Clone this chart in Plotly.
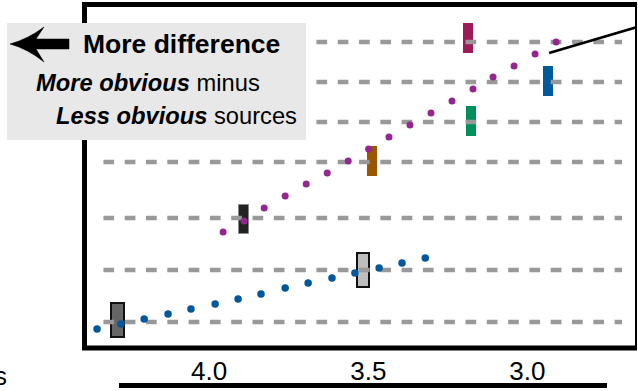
import plotly.graph_objects as go

# ── Data ─────────────────────────────────────────────────────────────────────
# rows (dashed reference lines), in plot units
grid_rows = [0.0, 1.3, 2.6, 4.0, 5.0, 6.0, 7.0]
grid_x_start, grid_x_end = 4.332, 2.703

# lower series (blue dots)
blue_x = [4.352, 4.277, 4.204, 4.129, 4.057, 3.981, 3.909, 3.837,
          3.761, 3.689, 3.614, 3.542, 3.466, 3.394, 3.321]
blue_y = [-0.175, -0.05, 0.075, 0.2, 0.325, 0.45, 0.575, 0.7,
          0.85, 0.975, 1.1, 1.225, 1.35, 1.475, 1.6]

# upper series (purple dots)
purple_x = [3.956, 3.890, 3.827, 3.761, 3.695, 3.629, 3.563, 3.499, 3.435,
            3.369, 3.303, 3.237, 3.171, 3.108, 3.042, 2.976, 2.910]
purple_y = [2.25, 2.525, 2.85, 3.15, 3.45, 3.725, 4.025, 4.325, 4.625,
            4.925, 5.225, 5.525, 5.825, 6.125, 6.4, 6.7, 7.0]

# interval markers: centre, low, high
bar_x    = [3.186, 2.935, 3.177, 3.488, 3.890, 3.516, 4.288]
bar_low  = [6.73, 5.65, 4.65, 3.65, 2.20, 0.875, -0.375]
bar_high = [7.47, 6.40, 5.40, 4.40, 2.925, 1.725, 0.475]
bar_colors = ["#9e1b57", "#005a9c", "#00905a", "#9a5700",
              "#222222", "#bdbdbd", "#666666"]

tick_vals = [4.0, 3.5, 3.0]
tick_text = ["4.0", "3.5", "3.0"]

# pointer line (from last purple dots toward an off-canvas note)
pointer_start = (2.932, 6.725)
pointer_end = (2.583, 7.545)

FONT = "Liberation Sans, Arial, Helvetica, sans-serif"

# ── Canvas geometry (pixels) ─────────────────────────────────────────────────
W, H = 638, 391
ML, MR, MT, MB = 84, 2, 4, 43
PW, PH = W - ML - MR, H - MT - MB


def px(x):
    return (x - ML) / PW


def py(y):
    return (H - MB - y) / PH


# ── Traces ───────────────────────────────────────────────────────────────────
bars = go.Bar(
    x=bar_x,
    y=[h - l for h, l in zip(bar_high, bar_low)],
    base=bar_low,
    width=[0.031, 0.031, 0.031, 0.031, 0.031, 0.038, 0.041],
    marker=dict(
        color=bar_colors,
        line=dict(color=["rgba(0,0,0,0)"] * 4 + ["#888888", "#111111", "#111111"],
                  width=[0, 0, 0, 0, 1, 2, 2]),
    ),
    showlegend=False,
    hoverinfo="skip",
)

gx, gy = [], []
for r in grid_rows:
    gx += [grid_x_start, grid_x_end, None]
    gy += [r, r, None]
grid = go.Scatter(
    x=gx, y=gy, mode="lines",
    line=dict(color="#999999", width=4.5, dash="10.7px,10.6px"),
    showlegend=False, hoverinfo="skip",
)

blue = go.Scatter(
    x=blue_x, y=blue_y, mode="markers",
    marker=dict(size=7.5, color="#00579b"),
    showlegend=False,
)
purple = go.Scatter(
    x=purple_x, y=purple_y, mode="markers",
    marker=dict(size=7, color="#93278f"),
    showlegend=False,
)

fig = go.Figure(data=[bars, grid, blue, purple])

# ── Frame, note box and arrow ────────────────────────────────────────────────
frame = (f"M {px(637)},{py(4.5)} L {px(84.5)},{py(4.5)} "
         f"L {px(84.5)},{py(348)} L {px(637)},{py(348)}")
arrow = (f"M {px(10)},{py(44)} Q {px(28)},{py(39)} {px(44)},{py(27)} "
         f"L {px(36)},{py(39)} L {px(69)},{py(39)} L {px(69)},{py(49)} "
         f"L {px(36)},{py(49)} L {px(44)},{py(62)} "
         f"Q {px(28)},{py(49)} {px(10)},{py(44)} Z")

shapes = [
    dict(type="path", xref="paper", yref="paper", path=frame,
         line=dict(color="black", width=5), layer="above"),
    dict(type="line", xref="paper", yref="paper",
         x0=px(636), x1=px(636), y0=py(2), y1=py(350),
         line=dict(color="black", width=2), layer="above"),
    dict(type="rect", xref="paper", yref="paper",
         x0=px(7), x1=px(306), y0=py(140), y1=py(23),
         fillcolor="#e8e8e8", line=dict(width=0), layer="above"),
    dict(type="path", xref="paper", yref="paper", path=arrow,
         fillcolor="black", line=dict(color="black", width=0.5), layer="above"),
    dict(type="line", xref="x", yref="y",
         x0=pointer_start[0], y0=pointer_start[1],
         x1=pointer_end[0], y1=pointer_end[1],
         line=dict(color="black", width=2.5), layer="above"),
    # bottom axis bar
    dict(type="line", xref="paper", yref="paper",
         x0=px(119), x1=px(607), y0=py(385.5), y1=py(385.5),
         line=dict(color="black", width=5), layer="above"),
]

annotations = [
    dict(text="<b>More difference</b>", xref="paper", yref="paper",
         x=px(81), y=py(44), xanchor="left", yanchor="middle",
         showarrow=False, font=dict(size=26.5, color="black", family=FONT)),
    dict(text="<b><i>More obvious</i></b> minus", xref="paper", yref="paper",
         x=px(34), y=py(83), xanchor="left", yanchor="middle",
         showarrow=False, font=dict(size=23.7, color="black", family=FONT)),
    dict(text="<b><i>Less obvious</i></b> sources", xref="paper", yref="paper",
         x=px(54), y=py(116), xanchor="left", yanchor="middle",
         showarrow=False, font=dict(size=23.7, color="black", family=FONT)),
    dict(text="s", xref="paper", yref="paper",
         x=px(9), y=py(376), xanchor="right", yanchor="middle",
         showarrow=False, font=dict(size=26, color="black", family=FONT)),
]

fig.update_layout(
    width=W, height=H,
    margin=dict(l=ML, r=MR, t=MT, b=MB),
    paper_bgcolor="white", plot_bgcolor="white",
    font=dict(family=FONT, color="black"),
    bargap=0,
    xaxis=dict(range=[4.393, 2.659], showgrid=False, zeroline=False,
               showline=False, ticks="", tickvals=tick_vals,
               ticktext=tick_text, tickfont=dict(size=26, color="black"),
               ticklabelstandoff=5),
    yaxis=dict(range=[-0.65, 7.95], showgrid=False, zeroline=False,
               showline=False, showticklabels=False, ticks=""),
    shapes=shapes,
    annotations=annotations,
)

# page has a default 8px body margin; drop it so the figure fills the window
fig.write_html("out.html", config={"displayModeBar": False},
               post_script="document.body.style.margin='0';")
